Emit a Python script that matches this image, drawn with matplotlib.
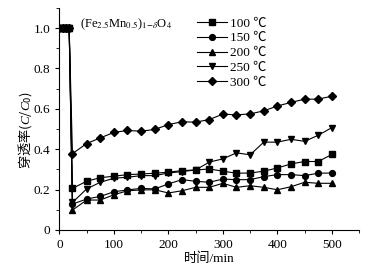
import numpy as np
import matplotlib
matplotlib.use("Agg")
from matplotlib import pyplot as plt
from matplotlib.ticker import MultipleLocator

plt.rcParams['font.family'] = ['Liberation Serif', 'Noto Sans CJK SC']
plt.rcParams['mathtext.fontset'] = 'stix'
# custom math font used only for the y label (CJK + italic C)
plt.rcParams['mathtext.rm'] = 'Noto Sans CJK SC'
plt.rcParams['mathtext.it'] = 'Liberation Serif:italic'
plt.rcParams['font.size'] = 9

# time points (min)
t = [0, 6, 12, 18, 24, 50, 75, 100, 125, 150, 175, 200, 225, 250, 275,
     300, 325, 350, 375, 400, 425, 450, 475, 500]
start = [1.0, 1.0, 1.0, 1.0]

c100 = start + [0.206, 0.241, 0.259, 0.266, 0.274, 0.277, 0.281, 0.286, 0.294, 0.297,
                0.302, 0.291, 0.281, 0.282, 0.291, 0.307, 0.327, 0.339, 0.339, 0.374]
c150 = start + [0.128, 0.153, 0.166, 0.189, 0.198, 0.206, 0.203, 0.228, 0.249, 0.241,
                0.236, 0.252, 0.249, 0.249, 0.264, 0.274, 0.274, 0.269, 0.281, 0.282]
c200 = start + [0.098, 0.148, 0.148, 0.174, 0.194, 0.198, 0.199, 0.183, 0.194, 0.211,
                0.211, 0.231, 0.211, 0.219, 0.211, 0.199, 0.214, 0.236, 0.231, 0.231]
c250 = start + [0.136, 0.203, 0.236, 0.256, 0.261, 0.269, 0.269, 0.282, 0.289, 0.297,
                0.336, 0.352, 0.382, 0.372, 0.435, 0.435, 0.449, 0.439, 0.469, 0.507]
c300 = start + [0.378, 0.428, 0.456, 0.483, 0.493, 0.489, 0.498, 0.522, 0.536, 0.534,
                0.547, 0.574, 0.570, 0.575, 0.590, 0.614, 0.632, 0.648, 0.648, 0.663]

labels = ['100 ℃', '150 ℃', '200 ℃', '250 ℃', '300 ℃']
markers = ['s', 'o', '^', 'v', 'D']
series = [c100, c150, c200, c250, c300]

fig = plt.figure(figsize=(3.71, 2.75), dpi=100)
ax = fig.add_axes([0.160, 0.164, 0.808, 0.807])

for y, m, lab in zip(series, markers, labels):
    ms = 3.6 if m == 'D' else 4.2
    ax.plot(t, y, color='black', lw=0.8, marker=m, markersize=ms, label=lab)

ax.set_xlim(0, 550)
ax.set_ylim(0, 1.1)
ax.xaxis.set_major_locator(MultipleLocator(100))
ax.xaxis.set_minor_locator(MultipleLocator(50))
ax.yaxis.set_minor_locator(MultipleLocator(0.1))
ax.set_yticks([0, 0.2, 0.4, 0.6, 0.8, 1.0])
ax.set_yticklabels(['0', '0.2', '0.4', '0.6', '0.8', '1.0'])
ax.spines['top'].set_visible(False)
ax.spines['right'].set_visible(False)
ax.tick_params(direction='out', length=3, width=0.8, labelsize=9.5)
ax.tick_params(which='minor', direction='out', length=2, width=0.6)

ax.set_xlabel('时间/min', fontsize=9.5, labelpad=1)
ax.set_ylabel(r'$\mathrm{穿透率(}C/C_0\mathrm{)}$', fontsize=9.5, labelpad=1,
              math_fontfamily='custom')
ax.yaxis.set_label_coords(-0.085, 0.45)

ax.text(0.07, 0.96, r'(Fe$_{2.5}$Mn$_{0.5}$)$_{1\mathrm{-}\delta}$O$_4$',
        transform=ax.transAxes, fontsize=9, va='top', ha='left')

ax.legend(loc='upper left', bbox_to_anchor=(0.43, 1.0), frameon=False,
          fontsize=9.5, handlelength=2.2, handletextpad=0.3, labelspacing=0.2,
          borderpad=0.2)

fig.savefig('out.png', dpi=100)
